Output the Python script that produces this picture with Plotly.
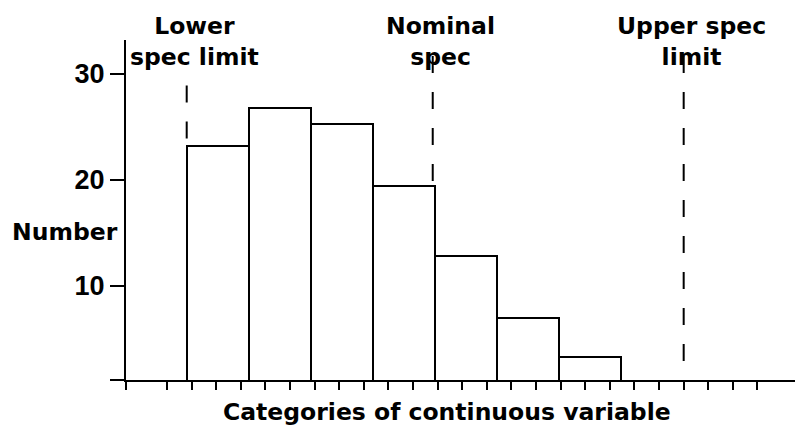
import plotly.graph_objects as go

# ---- data ----
BIN_EDGES = [0.8, 3.32, 5.84, 8.36, 10.88, 13.40, 15.92, 18.44]
COUNTS = [23.2, 26.8, 25.3, 19.4, 12.8, 7.0, 3.3]

SPEC_X = [0.8, 10.8, 21.0]
SPEC_TOP = [28.9, 31.7, 31.7]
SPEC_BOTTOM = [23.2, 19.4, 2.7]
SPEC_LABELS = ["Lower<br>spec limit", "Nominal<br>spec", "Upper spec<br>limit"]

Y_TICKS = [10, 20, 30]
Y_TICK_LABELS = ["10", "20", "30"]
X_TICKS = list(range(25))

X_RANGE = [-1.667, 25.85]
Y_RANGE = [1.1, 33.2]

Y_TITLE = "Number"
X_TITLE = "Categories of continuous variable"

# ---- derived ----
centers = [(a + b) / 2 for a, b in zip(BIN_EDGES[:-1], BIN_EDGES[1:])]
widths = [b - a for a, b in zip(BIN_EDGES[:-1], BIN_EDGES[1:])]

LABEL_FONT = dict(family="DejaVu Sans", size=23.5, color="black", weight="bold")
TICK_FONT = dict(family="Liberation Sans, Arial", size=27, color="black", weight="bold")

fig = go.Figure()
fig.add_trace(go.Bar(
    x=centers, y=COUNTS, width=widths,
    marker=dict(color="white", line=dict(color="black", width=2)),
    hoverinfo="skip", showlegend=False,
))

for sx, top, bot in zip(SPEC_X, SPEC_TOP, SPEC_BOTTOM):
    fig.add_trace(go.Scatter(
        x=[sx, sx], y=[top, bot], mode="lines",
        line=dict(color="black", width=2, dash="17px,19px"),
        hoverinfo="skip", showlegend=False,
    ))

for sx, lab in zip(SPEC_X, SPEC_LABELS):
    fig.add_annotation(
        x=sx, xref="x", y=1.088, yref="paper", text=lab, showarrow=False,
        xanchor="center", yanchor="top", align="center", xshift=8,
        font=LABEL_FONT,
    )

fig.add_annotation(
    x=-0.172, xref="paper", y=0.435, yref="paper", text=Y_TITLE, showarrow=False,
    xanchor="left", yanchor="middle", font=LABEL_FONT,
)
fig.add_annotation(
    x=0.474, xref="paper", y=-0.047, yref="paper", text=X_TITLE, showarrow=False,
    xanchor="center", yanchor="top", font=LABEL_FONT,
)

fig.update_xaxes(
    range=X_RANGE, showgrid=False, zeroline=False,
    showline=True, linecolor="black", linewidth=2,
    ticks="outside", ticklen=8, tickwidth=2, tickcolor="black",
    tickvals=[X_RANGE[0]] + X_TICKS, showticklabels=False,
)
fig.update_yaxes(
    range=Y_RANGE, showgrid=False, zeroline=False,
    showline=True, linecolor="black", linewidth=2,
    ticks="outside", ticklen=14, tickwidth=2, tickcolor="black",
    tickvals=[Y_RANGE[0]] + Y_TICKS, ticktext=[""] + Y_TICK_LABELS,
    tickfont=TICK_FONT,
)

# the page body adds an 8px margin, so the figure is sized to fill the rest
fig.update_layout(
    width=795, height=423,
    margin=dict(l=118, r=0, t=32, b=51),
    paper_bgcolor="white", plot_bgcolor="white",
    bargap=0,
)

fig.write_html("out.html")
